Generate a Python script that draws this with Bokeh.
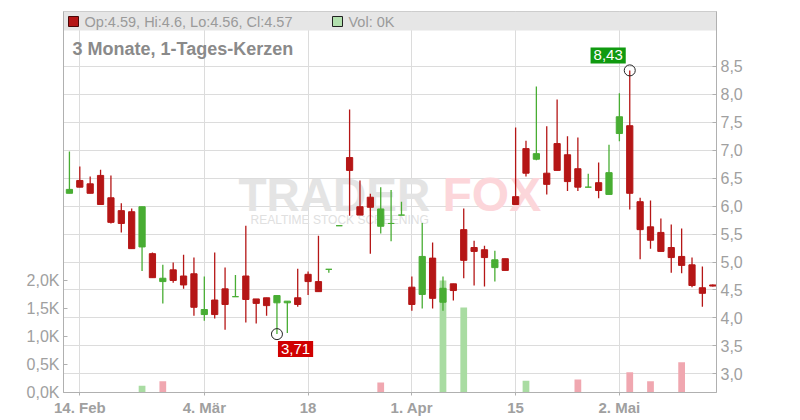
import pandas as pd
from bokeh.plotting import figure
from bokeh.models import (Range1d, LinearAxis, FixedTicker, CustomJSTickFormatter,
                          Label, ColumnDataSource, BoxAnnotation)
from bokeh.core.properties import value
from bokeh.embed import file_html
from bokeh.resources import INLINE

# ---------------- data ----------------
holidays = ["2025-04-18", "2025-04-21", "2025-05-01"]
dates = [d for d in pd.bdate_range("2025-02-13", "2025-05-15") if d.strftime("%Y-%m-%d") not in holidays]

opens  = [6.23, 6.46, 6.40, 6.55, 6.15, 5.92, 5.90, 5.27, 5.15, 4.65, 4.86, 4.75, 4.79, 4.06, 4.32, 4.52,
          4.38, 4.75, 4.34, 4.36, 4.27, 4.27, 4.36, 4.78, 4.65, 4.87, 5.65, 6.87, 5.99, 6.16, 5.64, 5.69,
          5.84, 4.55, 4.42, 5.07, 4.28, 4.61, 5.58, 5.26, 5.22, 4.90, 5.06, 6.17, 7.03, 6.84, 6.59, 7.12,
          6.92, 6.67, 6.34, 6.42, 6.21, 7.30, 7.44, 6.08, 5.63, 5.53, 5.26, 5.10, 4.95, 4.54, 4.59]
highs  = [6.98, 6.71, 6.53, 6.65, 6.55, 6.05, 5.96, 5.99, 5.17, 4.95, 4.99, 5.13, 5.08, 4.74, 5.17, 4.90,
          4.77, 5.65, 4.34, 4.36, 4.40, 4.30, 4.88, 4.83, 5.47, 4.87, 5.65, 7.73, 6.46, 6.22, 6.34, 6.29,
          6.08, 4.74, 5.70, 5.35, 4.74, 4.61, 5.96, 5.38, 5.29, 5.20, 5.06, 7.41, 7.17, 8.14, 7.43, 7.91,
          7.25, 7.23, 6.58, 6.78, 7.10, 8.02, 8.43, 6.15, 6.10, 5.78, 5.67, 5.60, 5.08, 4.92, 4.60]
lows   = [6.23, 6.34, 6.23, 6.03, 5.69, 5.53, 5.24, 4.84, 4.72, 4.26, 4.63, 4.52, 4.04, 3.95, 3.99, 3.79,
          4.38, 3.92, 3.90, 4.04, 3.71, 3.73, 4.20, 4.41, 4.47, 4.81, 5.65, 5.83, 5.84, 5.15, 5.51, 5.37,
          5.84, 4.13, 4.17, 4.17, 4.13, 4.31, 4.71, 4.58, 4.56, 4.65, 4.85, 6.03, 6.53, 6.82, 6.21, 6.64,
          6.27, 6.27, 6.34, 6.14, 6.21, 7.16, 5.94, 5.05, 5.24, 5.19, 4.81, 4.80, 4.55, 4.20, 4.56]
closes = [6.30, 6.34, 6.23, 6.03, 5.71, 5.69, 5.24, 5.99, 4.72, 4.71, 4.67, 4.59, 4.19, 4.15, 4.06, 4.24,
          4.38, 4.33, 4.26, 4.22, 4.40, 4.30, 4.24, 4.65, 4.47, 4.87, 5.65, 6.64, 5.84, 5.98, 5.95, 5.69,
          5.84, 4.24, 5.10, 4.35, 4.53, 4.49, 5.03, 5.19, 5.08, 5.04, 4.85, 6.03, 6.59, 6.94, 6.39, 6.64,
          6.44, 6.34, 6.34, 6.28, 6.60, 7.60, 6.23, 5.58, 5.39, 5.19, 5.08, 4.94, 4.58, 4.44, 4.57]
volumes = [0, 0, 0, 0, 0, 0, 0, 120, 0, 200, 0, 0, 0, 0, 0, 0,
           0, 0, 0, 0, 0, 0, 0, 0, 0, 0, 0, 0, 0, 0, 180, 0,
           0, 0, 0, 0, 2000, 0, 1520, 0, 0, 0, 0, 0, 210, 0, 0, 0,
           0, 230, 0, 0, 0, 0, 360, 0, 200, 0, 0, 540, 0, 0, 0]

price_ticks = [3.0, 3.5, 4.0, 4.5, 5.0, 5.5, 6.0, 6.5, 7.0, 7.5, 8.0, 8.5]
volume_ticks = [0, 500, 1000, 1500, 2000]
date_ticks = ["2025-02-14", "2025-03-04", "2025-03-18", "2025-04-01", "2025-04-15", "2025-05-02"]
date_labels = ["14. Feb", "4. Mär", "18", "1. Apr", "15", "2. Mai"]
title_text = "3 Monate, 1-Tages-Kerzen"

# ---------------- derived ----------------
n = len(dates)
xs = list(range(n))
date_str = [d.strftime("%Y-%m-%d") for d in dates]
tick_pos = [date_str.index(d) for d in date_ticks]

RED, GREEN = "#b51616", "#48ad33"
VRED, VGREEN = "#f0a7b0", "#a9dca2"
c_col = [GREEN if c >= o else RED for o, c in zip(opens, closes)]
v_col = [VGREEN if (i == 0 or closes[i] >= closes[i - 1]) else VRED for i in range(n)]

src = ColumnDataSource(dict(x=xs, o=opens, h=highs, l=lows, c=closes,
                            top=[max(a, b) for a, b in zip(opens, closes)],
                            bot=[min(a, b) for a, b in zip(opens, closes)], col=c_col))
vidx = [i for i in range(n) if volumes[i] > 0]
vsrc = ColumnDataSource(dict(x=[xs[i] for i in vidx], v=[volumes[i] for i in vidx],
                             col=[v_col[i] for i in vidx]))

X0, X1 = -0.571, 62.36
Y0, Y1 = 2.665, 9.484
FL, FR, FT, FB = 63.0, 716.0, 11.0, 392.0


def xd(px):
    return X0 + (px - FL) * (X1 - X0) / (FR - FL)


def yd(py):
    return Y1 - (py - FT) * (Y1 - Y0) / (FB - FT)


FONT = value("Liberation Sans")
W, H = 792, 418

p = figure(width=W, height=H, output_backend="svg", toolbar_location=None, tools="",
           x_range=Range1d(X0, X1), y_range=Range1d(Y0, Y1), y_axis_location="right",
           min_border_left=int(FL), min_border_right=int(W - FR), min_border_top=int(FT),
           min_border_bottom=int(H - FB))
p.extra_y_ranges = {"vol": Range1d(0, (FB - FT) / 56.0 * 1000)}
p.background_fill_color = "white"
p.border_fill_color = "white"
p.outline_line_color = "#c4c4c4"

# grids
p.xgrid.ticker = FixedTicker(ticks=tick_pos)
p.ygrid.ticker = FixedTicker(ticks=price_ticks)
p.grid.grid_line_color = "#dcdcdc"

# header band
p.add_layout(BoxAnnotation(bottom=yd(30), fill_color="#e6e6e6", fill_alpha=1.0,
                           line_color=None, level="underlay"))

# right price axis
ya = p.yaxis[0]
ya.ticker = FixedTicker(ticks=price_ticks)
ya.formatter = CustomJSTickFormatter(code="return tick.toFixed(1).replace('.', ',');")
ya.major_tick_in = 4
ya.major_tick_out = 0
ya.minor_tick_line_color = None
ya.axis_line_color = "#b0b0b0"
ya.major_tick_line_color = "#b0b0b0"
ya.major_label_text_font = "Liberation Sans"
ya.major_label_text_font_size = "16px"
ya.major_label_text_color = "#a0a0a0"
ya.major_label_standoff = 4

# left volume axis
va = LinearAxis(y_range_name="vol", ticker=FixedTicker(ticks=volume_ticks),
                formatter=CustomJSTickFormatter(code="return (tick/1000).toFixed(1).replace('.', ',') + 'K';"))
va.major_tick_in = 4
va.major_tick_out = 0
va.minor_tick_line_color = None
va.axis_line_color = "#b0b0b0"
va.major_tick_line_color = "#b0b0b0"
va.major_label_text_font = "Liberation Sans"
va.major_label_text_font_size = "16px"
va.major_label_text_color = "#a0a0a0"
va.major_label_standoff = 4
p.add_layout(va, "left")

# bottom date axis
xa = p.xaxis[0]
xa.ticker = FixedTicker(ticks=tick_pos)
xa.major_label_overrides = {t: lab for t, lab in zip(tick_pos, date_labels)}
xa.major_tick_in = 0
xa.major_tick_out = 3
xa.minor_tick_line_color = None
xa.axis_line_color = "#b0b0b0"
xa.major_tick_line_color = "#b0b0b0"
xa.major_label_text_font = "Liberation Sans"
xa.major_label_text_font_size = "15px"
xa.major_label_text_font_style = "bold"
xa.major_label_text_color = "#a0a0a0"
xa.major_label_standoff = 3

# watermark
p.text(x=[xd(238)], y=[yd(194)], text=["TRADER"], text_font=FONT, text_font_size="46px",
       text_font_style="bold", text_color="#e4e4e4", text_align="left", text_baseline="middle")
p.text(x=[xd(442)], y=[yd(194)], text=["FOX"], text_font=FONT, text_font_size="48px",
       text_font_style="bold", text_color="#fcd6da", text_align="left", text_baseline="middle")
p.text(x=[xd(250)], y=[yd(219)], text=["REALTIME STOCK SCREENING"], text_font=FONT,
       text_font_size="12px", text_color="#e0e0e0", text_align="left", text_baseline="middle")

# volume bars
p.vbar(x="x", width=0.65, top="v", bottom=0, source=vsrc, fill_color="col",
       line_color=None, y_range_name="vol")

# candles
p.segment(x0="x", y0="h", x1="x", y1="l", source=src, line_color="col", line_width=1.3)
p.vbar(x="x", width=0.6, top="top", bottom="bot", source=src, fill_color="col",
       line_color="col", line_width=1)

# extremes
hi_i = max(range(n), key=lambda i: highs[i])
lo_i = min(range(n), key=lambda i: lows[i])
p.scatter(x=[xs[hi_i], xs[lo_i]], y=[highs[hi_i], lows[lo_i]], marker="circle", size=11,
          fill_color=None, line_color="#222222", line_width=1)
p.add_layout(Label(x=xs[hi_i], y=highs[hi_i], text=f"{highs[hi_i]:.2f}".replace(".", ","),
                   x_offset=-4, y_offset=7, text_align="right", text_baseline="bottom",
                   text_font="Liberation Sans", text_font_size="15px", text_color="white",
                   background_fill_color="#109a10", padding=3))
p.add_layout(Label(x=xs[lo_i], y=lows[lo_i], text=f"{lows[lo_i]:.2f}".replace(".", ","),
                   x_offset=1, y_offset=-7, text_align="left", text_baseline="top",
                   text_font="Liberation Sans", text_font_size="15px", text_color="white",
                   background_fill_color="#d00000", padding=3))

# header legend
last = n - 1
p.scatter(x=[xd(73)], y=[yd(21)], marker="square", size=10, fill_color=RED, line_color="#4a0808")
p.text(x=[xd(84)], y=[yd(21)],
       text=[f"Op:{opens[last]:g}, Hi:{highs[last]:g}, Lo:{lows[last]:g}, Cl:{closes[last]:g}"],
       text_font=FONT, text_font_size="14.5px", text_color="#9a9a9a",
       text_align="left", text_baseline="middle")
p.scatter(x=[xd(337)], y=[yd(21)], marker="square", size=10, fill_color="#b2e0ae", line_color="#222222")
p.text(x=[xd(348)], y=[yd(21)], text=[f"Vol: {volumes[last] / 1000:.0f}K"], text_font=FONT,
       text_font_size="14.5px", text_color="#9a9a9a", text_align="left", text_baseline="middle")
p.text(x=[xd(72)], y=[yd(48)], text=[title_text], text_font=FONT, text_font_size="18px",
       text_font_style="bold", text_color="#8a8a8a", text_align="left", text_baseline="middle")

open("out.html", "w").write(file_html(p, INLINE))
